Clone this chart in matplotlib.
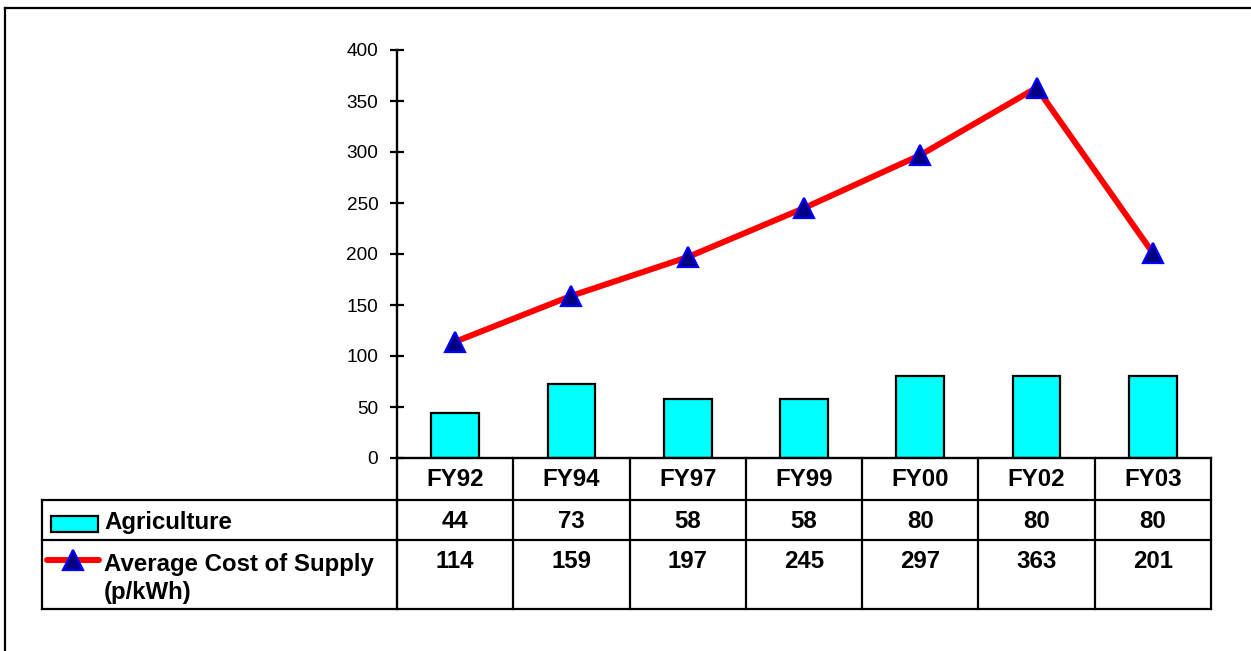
import numpy as np
import matplotlib
matplotlib.use("Agg")
import matplotlib.pyplot as plt
from matplotlib.lines import Line2D
from matplotlib.patches import Rectangle
from matplotlib.transforms import blended_transform_factory

plt.rcParams['font.family'] = ['Liberation Sans', 'DejaVu Sans']

# Data
years = ["FY92", "FY94", "FY97", "FY99", "FY00", "FY02", "FY03"]
agriculture = [44, 73, 58, 58, 80, 80, 80]
avg_cost = [114, 159, 197, 245, 297, 363, 201]
y_ticks = [0, 50, 100, 150, 200, 250, 300, 350, 400]

W, H = 1251, 651
fig = plt.figure(figsize=(W / 100, H / 100), dpi=100)

# plot area in pixels
L, R, T, B = 397, 1211, 50, 458
ax = fig.add_axes([L / W, 1 - B / H, (R - L) / W, (B - T) / H])


def ax_x(px):
    return (px - L) / (R - L)


def ax_y(py):
    return (B - py) / (B - T)


x = np.arange(len(years))
ax.set_xlim(-0.5, len(years) - 0.5)
ax.set_ylim(0, 400)

ax.bar(x, agriculture, width=0.41, color='#00FFFF', edgecolor='black',
       linewidth=1.6, zorder=2)
ax.plot(x, avg_cost, color='#FF0000', lw=4.3, marker='^', ms=15,
        mfc='#000080', mec='#0000FF', mew=1.6, zorder=3, clip_on=False)

for s in ['top', 'right']:
    ax.spines[s].set_visible(False)
for s in ['left', 'bottom']:
    ax.spines[s].set_linewidth(1.7)
ax.set_yticks(y_ticks)
ax.tick_params(axis='y', direction='inout', length=10, width=1.6,
               labelsize=13.7, pad=8.5)
ax.set_xticks([])

# data table beneath the plot
lw = 1.6
tr = blended_transform_factory(ax.transData, ax.transAxes)
row_lines = [ax_y(500), ax_y(540), ax_y(609)]
bottom = ax_y(609)
left_col = ax_x(42)

for yl in row_lines:
    ax.add_line(Line2D([left_col, 1], [yl, yl], transform=ax.transAxes,
                       color='black', lw=lw, clip_on=False))
ax.add_line(Line2D([left_col, left_col], [ax_y(500), bottom], transform=ax.transAxes,
                   color='black', lw=lw, clip_on=False))
for b in np.arange(len(years) + 1) - 0.5:
    ax.add_line(Line2D([b, b], [0, bottom], transform=tr, color='black',
                       lw=lw if b > -0.5 else 1.7, clip_on=False))

tfont = dict(fontsize=17.3, fontweight='bold', color='black')
for i, yr in enumerate(years):
    ax.text(i, ax_y(480), yr, transform=tr, ha='center', va='center', **tfont)
    ax.text(i, ax_y(521), str(agriculture[i]), transform=tr, ha='center',
            va='center', **tfont)
    ax.text(i, ax_y(562), str(avg_cost[i]), transform=tr, ha='center',
            va='center', **tfont)

# legend keys in the first column
ax.add_patch(Rectangle((ax_x(50.5), ax_y(532)), ax_x(97.5) - ax_x(50.5),
                       ax_y(515.5) - ax_y(532), transform=ax.transAxes,
                       facecolor='#00FFFF', edgecolor='black', lw=1.6,
                       clip_on=False))
ax.add_line(Line2D([ax_x(47), ax_x(99)], [ax_y(559.5), ax_y(559.5)],
                   transform=ax.transAxes, color='#FF0000', lw=4.3,
                   solid_capstyle='round', clip_on=False))
ax.add_line(Line2D([ax_x(73)], [ax_y(559.5)], transform=ax.transAxes,
                   marker='^', ms=15, mfc='#000080', mec='#0000FF', mew=1.6,
                   clip_on=False))
ax.text(ax_x(104), ax_y(523), "Agriculture", transform=ax.transAxes,
        ha='left', va='center', **tfont)
ax.text(ax_x(104), ax_y(564), "Average Cost of Supply", transform=ax.transAxes,
        ha='left', va='center', **tfont)
ax.text(ax_x(104), ax_y(592), "(p/kWh)", transform=ax.transAxes,
        ha='left', va='center', **tfont)

# outer frame (top and left edges)
fig.add_artist(Line2D([5 / W, 1], [1 - 8 / H, 1 - 8 / H], transform=fig.transFigure,
                      color='black', lw=1.6))
fig.add_artist(Line2D([5 / W, 5 / W], [0, 1 - 8 / H], transform=fig.transFigure,
                      color='black', lw=1.6))

fig.savefig("out.png", dpi=100, facecolor='white')
